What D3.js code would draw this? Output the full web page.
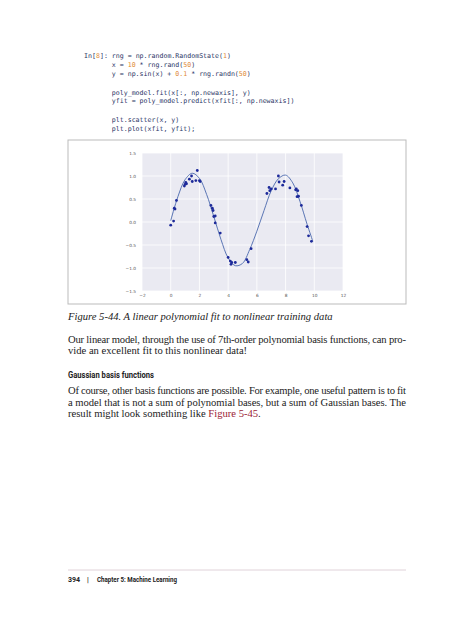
<!DOCTYPE html>
<html lang="en">
<head>
<meta charset="UTF-8">
<title>Figure 5-44</title>
<script src="https://d3js.org/d3.v7.min.js"></script>
<style>
  body { margin: 0; background: #fff; }
  .code { font-family: "DejaVu Sans Mono", monospace; font-size: 6.6px; fill: #2b3566; }
  .num { fill: #e08a35; }
  .serif { font-family: "Liberation Serif", "DejaVu Serif", serif; font-size: 10.6px; fill: #222; }
  .tick text { font-family: "DejaVu Sans", sans-serif; font-size: 4.3px; fill: #555; }
</style>
</head>
<body>
<div id="page"></div>
<script>
// scatter points (x, y)
const xs = [0.0,0.2,0.3,0.25,0.4,0.95,1.0,1.05,1.1,1.3,1.45,1.5,1.75,1.85,2.0,2.05,2.8,2.9,2.95,3.0,3.1,3.1,3.45,4.0,4.15,4.2,4.25,4.5,5.3,5.4,5.6,6.7,6.85,6.9,7.0,7.3,7.5,7.55,7.8,7.9,8.3,8.7,8.75,8.8,8.85,8.9,9.1,9.5,9.6,9.8];
const ys = [-0.07,0.02,0.28,0.3,0.47,0.78,0.82,0.86,0.83,0.93,1.0,0.88,0.9,1.12,0.9,0.88,0.36,0.3,0.25,0.12,0.13,-0.02,-0.24,-0.77,-0.85,-0.92,-0.88,-0.88,-0.82,-0.87,-0.58,0.62,0.75,0.68,0.72,0.72,1.0,0.87,0.8,0.88,0.74,0.7,0.72,0.55,0.68,0.56,0.36,-0.1,-0.3,-0.42];
// fitted curve
const fitX = [0,0.5,1,1.5,2,2.5,3,3.5,4,4.5,5,5.5,6,6.5,7,7.5,8,8.5,9,9.5,9.9];
const fitY = [0.03,0.55,0.92,1.06,0.95,0.6,0.12,-0.38,-0.78,-0.95,-0.9,-0.6,-0.2,0.25,0.68,0.94,1.02,0.85,0.45,-0.05,-0.42];
const xTicks = [-2,0,2,4,6,8,10,12];
const yTicks = [-1.5,-1.0,-0.5,0.0,0.5,1.0,1.5];

const svg = d3.select("#page").append("svg").attr("width", 474).attr("height", 622);

// code cell
const code = [
  [55.7, "In[", ["8"], "]: rng = np.random.RandomState(", ["1"], ")"],
  [64.3, "       x = ", ["10"], " * rng.rand(", ["50"], ")"],
  [73.3, "       y = np.sin(x) + ", ["0.1"], " * rng.randn(", ["50"], ")"],
  [92.3, "       poly_model.fit(x[:, np.newaxis], y)"],
  [101, "       yfit = poly_model.predict(xfit[:, np.newaxis])"],
  [120, "       plt.scatter(x, y)"],
  [129, "       plt.plot(xfit, yfit);"]
];
code.forEach(([y, ...parts]) => {
  const t = svg.append("text").attr("class", "code").attr("x", 84).attr("y", y + 2.3)
    .attr("xml:space", "preserve");
  parts.forEach(p => {
    if (Array.isArray(p)) t.append("tspan").attr("class", "num").text(p[0]);
    else t.append("tspan").text(p);
  });
});

// figure frame
svg.append("rect").attr("x", 68).attr("y", 140).attr("width", 338).attr("height", 164)
  .attr("fill", "#fff").attr("stroke", "#bbb").attr("stroke-width", 1);

const x = d3.scaleLinear().domain([-2, 12]).range([142, 343]);
const y = d3.scaleLinear().domain([-1.5, 1.5]).range([291, 153]);

svg.append("rect").attr("x", 142).attr("y", 153).attr("width", 201).attr("height", 138).attr("fill", "#eaeaf2");
svg.append("g").selectAll("line").data(xTicks).join("line")
  .attr("x1", d => x(d)).attr("x2", d => x(d)).attr("y1", 153).attr("y2", 291)
  .attr("stroke", "#fff").attr("stroke-width", 0.8);
svg.append("g").selectAll("line").data(yTicks).join("line")
  .attr("y1", d => y(d)).attr("y2", d => y(d)).attr("x1", 142).attr("x2", 343)
  .attr("stroke", "#fff").attr("stroke-width", 0.8);

svg.append("g").attr("transform", "translate(0,292)")
  .call(d3.axisBottom(x).tickValues(xTicks).tickSize(0).tickPadding(2).tickFormat(d3.format("d")))
  .call(g => g.select(".domain").remove());
svg.append("g").attr("transform", "translate(141,0)")
  .call(d3.axisLeft(y).tickValues(yTicks).tickSize(0).tickPadding(5).tickFormat(d3.format(".1f")))
  .call(g => g.select(".domain").remove());

svg.append("path").datum(fitX.map((d, i) => [d, fitY[i]]))
  .attr("fill", "none").attr("stroke", "#4a68ad").attr("stroke-width", 0.9)
  .attr("d", d3.line().x(d => x(d[0])).y(d => y(d[1])).curve(d3.curveCatmullRom));

svg.append("g").selectAll("circle").data(xs.map((d, i) => [d, ys[i]])).join("circle")
  .attr("cx", d => x(d[0])).attr("cy", d => y(d[1])).attr("r", 1.4).attr("fill", "#1d2a9a");

// text below
svg.append("text").attr("class", "serif").attr("x", 68).attr("y", 320)
  .style("font-style", "italic").text("Figure 5-44. A linear polynomial fit to nonlinear training data");

const para = (yy, s, len) => {
  const t = svg.append("text").attr("class", "serif").attr("x", 68).attr("y", yy);
  if (len) t.attr("textLength", len).attr("lengthAdjust", "spacing");
  return t.text(s);
};
para(342.5, "Our linear model, through the use of 7th-order polynomial basis functions, can pro-", 338);
para(354, "vide an excellent fit to this nonlinear data!", 0);

svg.append("text").attr("x", 68).attr("y", 378)
  .style("font-family", "Roboto, sans-serif").style("font-weight", "bold").style("font-size", "9.5px")
  .attr("fill", "#222").attr("textLength", 86).attr("lengthAdjust", "spacingAndGlyphs")
  .text("Gaussian basis functions");

para(394, "Of course, other basis functions are possible. For example, one useful pattern is to fit", 338);
para(405.5, "a model that is not a sum of polynomial bases, but a sum of Gaussian bases. The", 338);
const last = para(417, "result might look something like ", 0);
last.append("tspan").attr("fill", "#9b2235").text("Figure 5-45");
last.append("tspan").text(".");

// footer
svg.append("line").attr("x1", 68).attr("x2", 406).attr("y1", 570).attr("y2", 570)
  .attr("stroke", "#d8c6cf").attr("stroke-width", 0.8);
svg.append("text").attr("x", 68).attr("y", 582)
  .style("font-family", "Roboto, sans-serif").style("font-weight", "bold").style("font-size", "7px")
  .attr("fill", "#222").attr("xml:space", "preserve")
  .text("394    |    ");
svg.append("text").attr("x", 97).attr("y", 582)
  .style("font-family", "Roboto, sans-serif").style("font-weight", "bold").style("font-size", "7px")
  .attr("fill", "#222").attr("textLength", 80).attr("lengthAdjust", "spacingAndGlyphs")
  .text("Chapter 5: Machine Learning");
</script>
</body>
</html>
